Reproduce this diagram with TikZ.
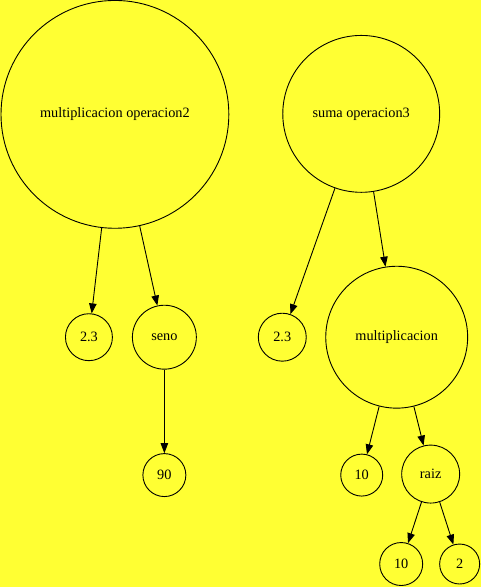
\documentclass[tikz,border=0pt]{standalone}
\usepackage{fontspec}
\setmainfont{Liberation Serif}
\usetikzlibrary{arrows.meta}
\definecolor{bgyellow}{RGB}{255,255,51}

\begin{document}
\begin{tikzpicture}[x=1pt, y=-1pt,
                    every node/.style={draw, circle, inner sep=0pt, line width=0.9pt, font=\fontsize{14.3}{17}\selectfont},
                    edge/.style={-{Triangle[length=10pt, width=7.5pt]}, line width=0.9pt}]
    % Background
    \fill[bgyellow] (0,0) rectangle (481,587);
    % Left tree
    \node[minimum size=228pt] (mult2) at (115,114) {multiplicacion operacion2};
    \node[minimum size=47pt] (numA) at (89,337) {2.3};
    \node[minimum size=64pt] (seno) at (164.5,337) {seno};
    \node[minimum size=43pt] (num90) at (164.5,475) {90};
    % Right tree
    \node[minimum size=157pt] (suma) at (361.5,113.5) {suma operacion3};
    \node[minimum size=48pt] (numB) at (282.5,337) {2.3};
    \node[minimum size=142pt] (mult) at (397,337) {multiplicacion};
    \node[minimum size=42pt] (diezA) at (362,475) {10};
    \node[minimum size=58pt] (raiz) at (431,474) {raiz};
    \node[minimum size=43pt] (diezB) at (401.5,564) {10};
    \node[minimum size=40pt] (dos) at (460,564) {2}; % Leaf
    % Edges
    \draw[edge] (mult2) -- (numA);
    \draw[edge] (mult2) -- (seno);
    \draw[edge] (seno) -- (num90);
    \draw[edge] (suma) -- (numB);
    \draw[edge] (suma) -- (mult);
    \draw[edge] (mult) -- (diezA);
    \draw[edge] (mult) -- (raiz);
    \draw[edge] (raiz) -- (diezB);
    \draw[edge] (raiz) -- (dos);
\end{tikzpicture}
\end{document}
